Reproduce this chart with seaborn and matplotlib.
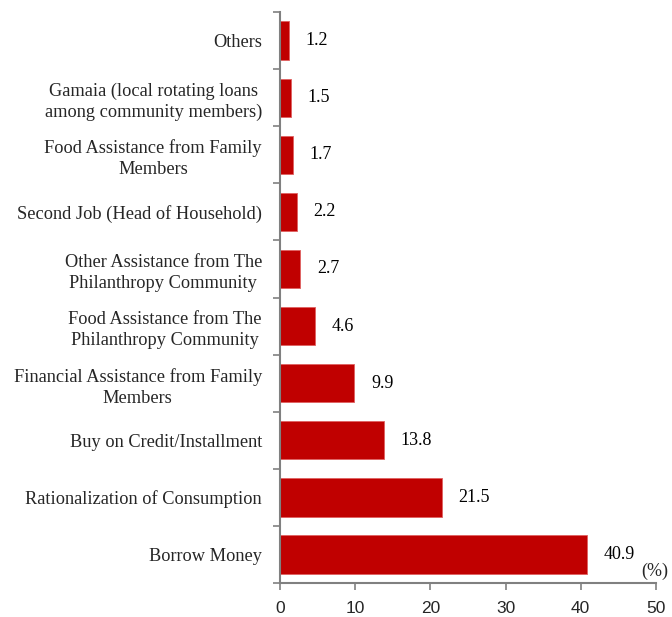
import numpy as np
import pandas as pd
import matplotlib
matplotlib.use("Agg")
import matplotlib.pyplot as plt
import seaborn as sns

# coping strategies, top to bottom
strategies = [
    "Others",
    "Gamaia (local rotating loans\namong community members)",
    "Food Assistance from Family\nMembers",
    "Second Job (Head of Household)",
    "Other Assistance from The\nPhilanthropy Community",
    "Food Assistance from The\nPhilanthropy Community",
    "Financial Assistance from Family\nMembers",
    "Buy on Credit/Installment",
    "Rationalization of Consumption",
    "Borrow Money",
]
shares = [1.2, 1.5, 1.7, 2.2, 2.7, 4.6, 9.9, 13.8, 21.5, 40.9]
x_ticks = [0, 10, 20, 30, 40, 50]

df = pd.DataFrame({"strategy": strategies, "share": shares})

sns.set_style("white")
serif = ["Liberation Serif", "DejaVu Serif"]
sans = ["Liberation Sans", "DejaVu Sans"]

fig = plt.figure(figsize=(6.72, 6.17), dpi=100)
ax = fig.add_axes([0.4167, 0.055, 0.976 - 0.4167, 0.9806 - 0.055])

sns.barplot(data=df, y="strategy", x="share", order=strategies, orient="h",
            color="#C00000", saturation=1, width=0.67,
            edgecolor="#E06060", linewidth=0.6, ax=ax)

for i, v in enumerate(shares):
    ax.text(v + 2.2, i, f"{v}", va="center", ha="left",
            fontsize=13, family=serif, color="black")

ax.set_xlim(0, 50)
ax.set_ylim(9.5, -0.5)
ax.set_xticks(x_ticks)
ax.set_xticklabels([str(t) for t in x_ticks], family=sans, fontsize=12.5)
ax.set_yticks(range(len(strategies)))
ax.set_yticklabels(strategies, family=serif, fontsize=13.2,
                   multialignment="center", linespacing=1.32)
ax.set_yticks(np.arange(-0.5, 10, 1), minor=True)
ax.tick_params(axis="y", which="major", left=False, length=0, pad=13)
ax.tick_params(axis="y", which="minor", left=True, length=5, color="#808080",
               width=1.2, direction="out")
ax.tick_params(axis="x", bottom=True, length=5, color="#808080", width=1.2,
               direction="out", pad=8)

ax.set_xlabel("")
ax.set_ylabel("")
for s in ["top", "right"]:
    ax.spines[s].set_visible(False)
for s in ["left", "bottom"]:
    ax.spines[s].set_color("#808080")
    ax.spines[s].set_linewidth(1.5)

ax.text(1.032, 0.005, "(%)", transform=ax.transAxes, ha="right", va="bottom",
        fontsize=13, family=serif)

fig.savefig("out.png", dpi=100)
